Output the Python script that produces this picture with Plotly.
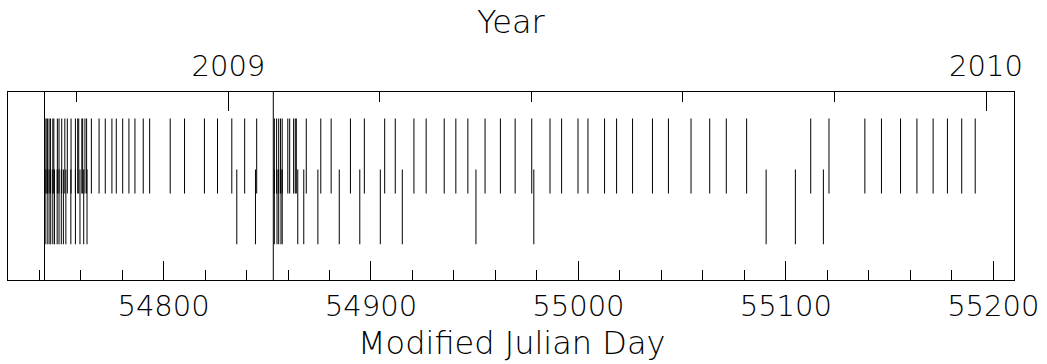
import plotly.graph_objects as go

# Observation epochs (MJD) for the upper set of event markers
row_upper_mjd = [
    54742.8, 54743.4, 54744.0, 54744.8, 54745.5, 54746.6, 54747.1, 54748.8,
    54749.6, 54750.9, 54752.4, 54753.6, 54755.4, 54757.5, 54758.6, 54759.1,
    54760.6, 54761.0, 54762.1, 54762.9,
    54765.2, 54768.9, 54771.9, 54775.1, 54777.2, 54780.3, 54783.3, 54786.2,
    54790.2, 54793.3, 54803.2, 54810.1, 54819.7, 54826.0, 54832.9, 54839.1,
    54844.9,
    54853.4, 54854.5, 54855.5, 54856.4, 54857.2,
    54859.9, 54860.8, 54862.7, 54863.5, 54864.0, 54868.8, 54875.8, 54880.8,
    54890.1, 54896.8, 54906.6, 54911.7, 54920.7, 54926.6, 54935.3, 54940.9,
    54946.7, 54955.0, 54962.4, 54969.5, 54977.5, 54986.3, 54991.9, 54999.8,
    55004.6, 55012.6, 55018.4, 55026.1, 55035.7, 55043.4, 55054.3, 55063.3,
    55071.3, 55081.1, 55112.0, 55120.8, 55138.1, 55146.1, 55155.3, 55163.2,
    55171.0, 55177.9, 55184.8, 55191.3,
]

# Observation epochs (MJD) for the lower set of event markers
row_lower_mjd = [
    54742.9, 54743.9, 54744.8, 54745.6, 54746.6, 54747.4, 54748.7, 54749.6,
    54750.7, 54751.7, 54752.9, 54755.3, 54757.5, 54759.7, 54761.5, 54763.1,
    54835.3, 54844.3,
    54853.4, 54854.7, 54855.5, 54856.6, 54857.2,
    54864.7, 54867.6, 54874.4, 54884.7, 54894.6, 54904.5, 54915.1, 54950.6,
    54978.5, 55090.5, 55104.6, 55118.1,
]

# Epochs marked across the full height of the panel
full_height_mjd = [54742.6, 54852.9]

# Axis settings
mjd_range = [54725, 55210]
mjd_major = [54800, 54900, 55000, 55100, 55200]
year_major = [2009, 2010]
year_minor = [2008.8, 2009.2, 2009.4, 2009.6, 2009.8]


def year_to_mjd(y):
    # decimal year -> MJD (J2000 epoch, Julian years)
    return 51544.0 + (y - 2000.0) * 365.25


def segments(xs, y0, y1):
    xx, yy = [], []
    for v in xs:
        xx += [v, v, None]
        yy += [y0, y1, None]
    return xx, yy


# vertical extents of each marker row (fraction of panel height)
UPPER = (0.46, 0.859)
LOWER = (0.19, 0.588)

line_style = dict(color="black", width=1)

fig = go.Figure()
for xs, (y0, y1) in [(row_upper_mjd, UPPER), (row_lower_mjd, LOWER)]:
    sx, sy = segments(xs, y0, y1)
    fig.add_trace(go.Scatter(x=sx, y=sy, mode="lines", line=line_style,
                             hoverinfo="skip", showlegend=False))

sx, sy = segments(full_height_mjd, 0, 1)
fig.add_trace(go.Scatter(x=sx, y=sy, mode="lines", line=line_style,
                         xaxis="x2", hoverinfo="skip", showlegend=False))

FONT = "DejaVu Sans"
tick_font = dict(family=FONT, size=29, color="black", weight=200)
title_font = dict(family=FONT, size=32, color="black", weight=200)

fig.update_layout(
    width=1047, height=364,
    margin=dict(l=8, r=30, t=92, b=84),
    paper_bgcolor="white", plot_bgcolor="white",
    xaxis=dict(
        range=mjd_range, showgrid=False, zeroline=False,
        showline=True, linecolor="black", linewidth=1, mirror=False,
        tickmode="array", tickvals=mjd_major,
        ticktext=[str(v) for v in mjd_major],
        ticks="inside", ticklen=19, tickwidth=1, tickcolor="black",
        minor=dict(ticks="inside", ticklen=10, tickwidth=1, tickcolor="black",
                   tick0=54700, dtick=20, showgrid=False),
        tickfont=tick_font, ticklabelstandoff=0,
    ),
    xaxis2=dict(
        range=mjd_range, overlaying="x", side="top", anchor="y",
        showgrid=False, zeroline=False,
        showline=True, linecolor="black", linewidth=1,
        tickmode="array", tickvals=[year_to_mjd(y) for y in year_major],
        ticktext=[str(y) for y in year_major],
        ticks="inside", ticklen=19, tickwidth=1, tickcolor="black",
        minor=dict(ticks="inside", ticklen=10, tickwidth=1, tickcolor="black",
                   tickvals=[year_to_mjd(y) for y in year_minor],
                   showgrid=False),
        tickfont=tick_font, ticklabelstandoff=3,
    ),
    yaxis=dict(
        range=[0, 1], showgrid=False, zeroline=False,
        showline=True, linecolor="black", linewidth=1, mirror=True,
        ticks="", showticklabels=False,
    ),
    annotations=[
        dict(text="Modified Julian Day", xref="paper", yref="paper",
             x=0.5, y=-0.335, xanchor="center", yanchor="middle",
             showarrow=False, font=title_font),
        dict(text="Year", xref="paper", yref="paper",
             x=0.5, y=1.37, xanchor="center", yanchor="middle",
             showarrow=False, font=title_font),
    ],
)

fig.write_html("out.html")
